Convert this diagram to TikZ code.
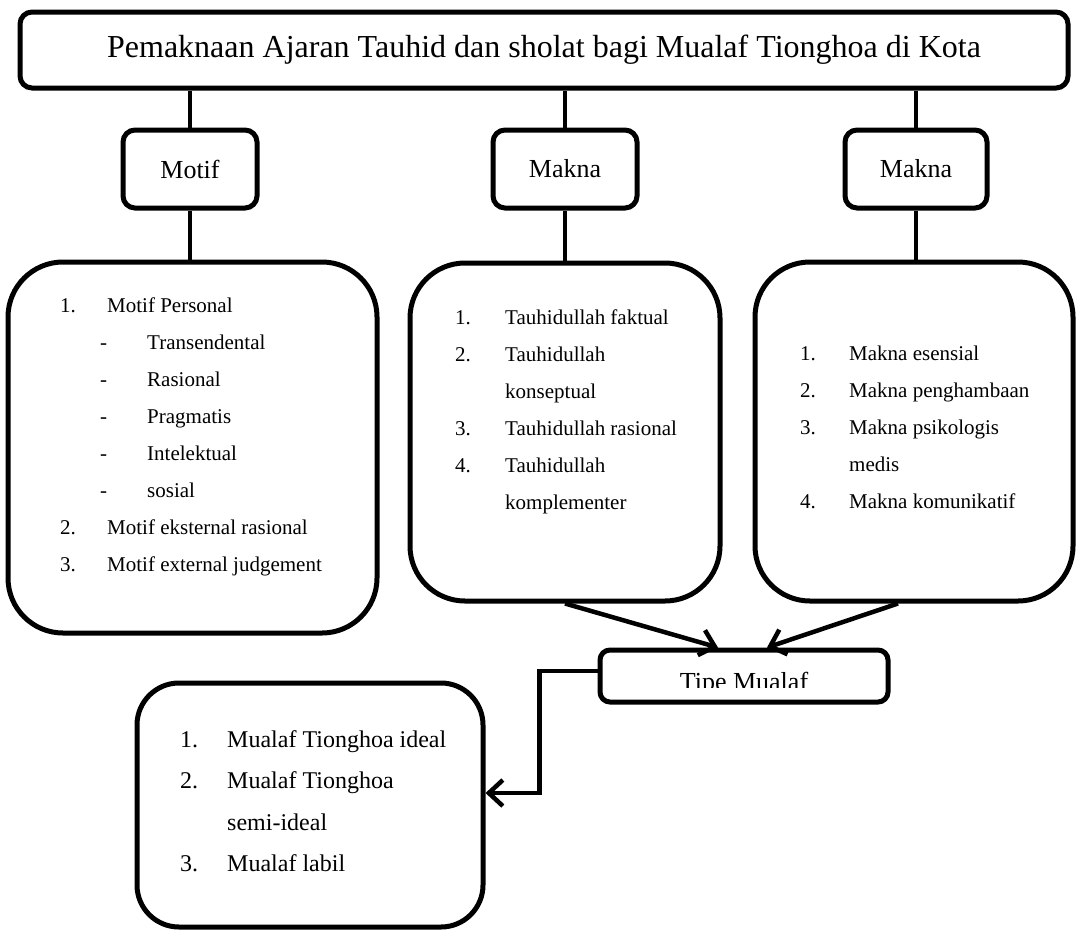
\documentclass[tikz,border=0pt]{standalone}
\usepackage{fontspec}
\setmainfont{Liberation Serif}
\usetikzlibrary{arrows.meta}

\begin{document}
\begin{tikzpicture}[x=1pt, y=-1pt,
  box/.style={draw, line width=5pt, rounded corners=12pt, inner sep=0pt},
  bigbox/.style={draw, line width=5pt, rounded corners=55pt, inner sep=0pt},
  link/.style={line width=4.5pt},
  arr/.style={line width=4.5pt, -{Straight Barb[length=14pt, width=26pt]}},
  listtext/.style={align=left, inner sep=0pt, font=\fontsize{21}{37}\selectfont}]
  \useasboundingbox (0,0) rectangle (1078,929);

  % top row
  \node[box, minimum width=1048pt, minimum height=76pt, font=\fontsize{32}{38}\selectfont] (title) at (544,50) {Pemaknaan Ajaran Tauhid dan sholat bagi Mualaf Tionghoa di Kota};
  \node[box, minimum width=134pt, minimum height=78pt, font=\fontsize{26}{30}\selectfont] (motif) at (190,169) {Motif};
  \node[box, minimum width=144pt, minimum height=78pt, font=\fontsize{26}{30}\selectfont] (maknaA) at (565,169) {Makna};
  \node[box, minimum width=142pt, minimum height=78pt, font=\fontsize{26}{30}\selectfont] (maknaB) at (916,169) {Makna};

  % big boxes
  \node[bigbox, minimum width=369pt, minimum height=371pt] (motifbox) at (192.5,447.5) {};
  \node[bigbox, minimum width=310pt, minimum height=338pt] (tauhidbox) at (565,432) {};
  \node[bigbox, minimum width=318pt, minimum height=339pt] (maknabox) at (914,431.5) {};
  \node[bigbox, rounded corners=42pt, minimum width=346pt, minimum height=244pt] (mualafbox) at (310,805) {};

  \node[listtext, anchor=north west] (motiftext) at (60,298) {\makebox[47pt][l]{1.}Motif Personal\\
    \hspace*{40pt}\makebox[47pt][l]{-}Transendental\\
    \hspace*{40pt}\makebox[47pt][l]{-}Rasional\\
    \hspace*{40pt}\makebox[47pt][l]{-}Pragmatis\\
    \hspace*{40pt}\makebox[47pt][l]{-}Intelektual\\
    \hspace*{40pt}\makebox[47pt][l]{-}sosial\\
    \makebox[47pt][l]{2.}Motif eksternal rasional\\
    \makebox[47pt][l]{3.}Motif external judgement};
  \node[listtext, anchor=north west] (tauhidtext) at (455,310) {\makebox[50pt][l]{1.}Tauhidullah faktual\\
    \makebox[50pt][l]{2.}Tauhidullah\\
    \hspace*{50pt}konseptual\\
    \makebox[50pt][l]{3.}Tauhidullah rasional\\
    \makebox[50pt][l]{4.}Tauhidullah\\
    \hspace*{50pt}komplementer};
  \node[listtext, anchor=north west] (maknatext) at (800,346) {\makebox[49pt][l]{1.}Makna esensial\\
    \makebox[49pt][l]{2.}Makna penghambaan\\
    \makebox[49pt][l]{3.}Makna psikologis\\
    \hspace*{49pt}medis\\
    \makebox[49pt][l]{4.}Makna komunikatif};
  \node[listtext, anchor=north west, font=\fontsize{24}{41.5}\selectfont] (mualaftext) at (180,730) {\makebox[47pt][l]{1.}Mualaf Tionghoa ideal\\
    \makebox[47pt][l]{2.}Mualaf Tionghoa\\
    \hspace*{47pt}semi-ideal\\
    \makebox[47pt][l]{3.}Mualaf labil};

  % tipe box, label cut at the bottom
  \node[box, rounded corners=10pt, minimum width=288pt, minimum height=52pt] (tipe) at (744,676) {};
  \begin{scope}
    \clip (600,650) rectangle (888,687);
    \node[font=\fontsize{26}{30}\selectfont, anchor=base, inner sep=0pt] (tipetext) at (744,690) {Tipe Mualaf};
  \end{scope}

  % connectors
  \draw[link] (title.south -| motif.north) -- (motif.north);
  \draw[link] (title.south -| maknaA.north) -- (maknaA.north);
  \draw[link] (title.south -| maknaB.north) -- (maknaB.north);
  \draw[link] (motif.south) -- (motif.south |- motifbox.north);
  \draw[link] (maknaA.south) -- (maknaA.south |- tauhidbox.north);
  \draw[link] (maknaB.south) -- (maknaB.south |- maknabox.north);

  \draw[arr] (tauhidbox.south) -- ([xshift=-26pt]tipe.north);
  \draw[arr] ([xshift=-16pt]maknabox.south) -- ([xshift=23pt]tipe.north);
  \draw[arr] ([yshift=5pt]tipe.west) -- ++(-58,0) |- ([yshift=12pt]mualafbox.east);

\end{tikzpicture}
\end{document}
